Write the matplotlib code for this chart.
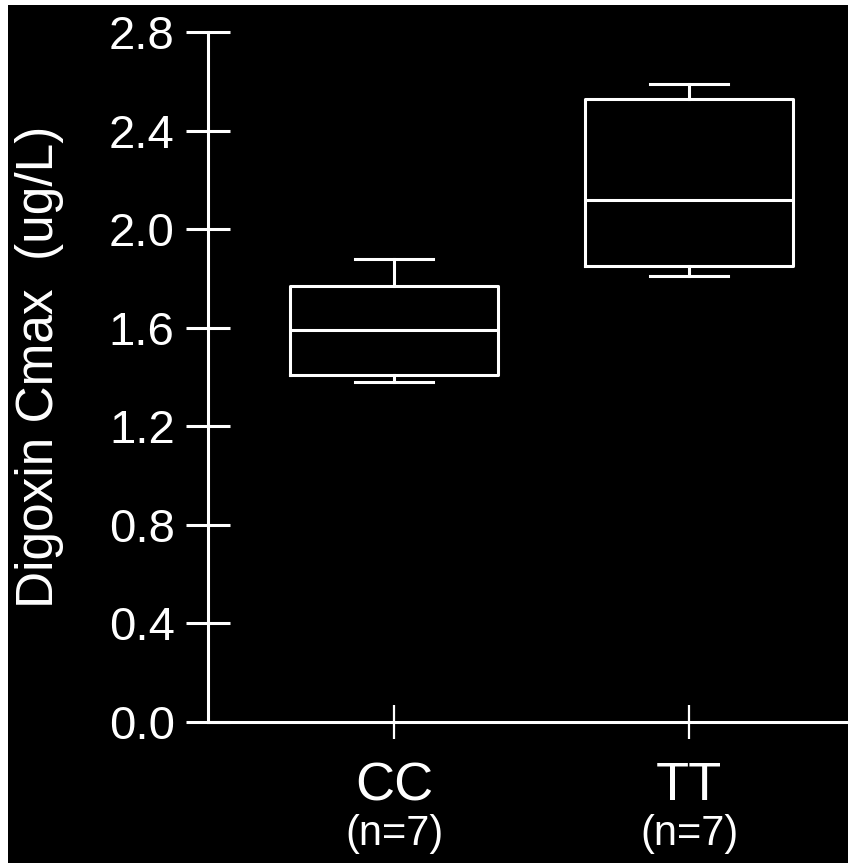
import matplotlib
matplotlib.use("Agg")
import matplotlib.pyplot as plt
from matplotlib.patches import Rectangle

plt.rcParams['font.family'] = ['Liberation Sans', 'DejaVu Sans']

# Data
groups = ["CC", "TT"]
group_n = ["(n=7)", "(n=7)"]
whisker_low = [1.38, 1.81]
q1 = [1.41, 1.85]
median = [1.59, 2.12]
q3 = [1.77, 2.53]
whisker_high = [1.88, 2.59]
y_ticks = [0.0, 0.4, 0.8, 1.2, 1.6, 2.0, 2.4, 2.8]
y_label = "Digoxin Cmax  (ug/L)"

W, H = 848, 863
fig = plt.figure(figsize=(W / 100, H / 100), dpi=100, facecolor='white')
fig.add_artist(Rectangle((8 / W, 0), 1, 1 - 5 / H, transform=fig.transFigure,
                         facecolor='black', edgecolor='none', zorder=-5))

ax = fig.add_axes([208 / W, 1 - 722 / H, 1 - 208 / W, (722 - 32) / H])
ax.set_facecolor('none')

positions = [1, 2]
stats = []
for i, g in enumerate(groups):
    stats.append(dict(label=g, whislo=whisker_low[i], q1=q1[i], med=median[i],
                      q3=q3[i], whishi=whisker_high[i], fliers=[]))

lw = 2.2
ax.bxp(stats, positions=positions, widths=0.705, capwidths=0.265, showfliers=False,
       boxprops=dict(color='white', linewidth=lw),
       whiskerprops=dict(color='white', linewidth=lw),
       capprops=dict(color='white', linewidth=lw),
       medianprops=dict(color='white', linewidth=lw),
       manage_ticks=False)

ax.set_xlim(0.369, 2.539)
ax.set_ylim(0, 2.8)

for s in ['top', 'right']:
    ax.spines[s].set_visible(False)
for s in ['left', 'bottom']:
    ax.spines[s].set_color('white')
    ax.spines[s].set_linewidth(lw)

ax.set_yticks(y_ticks)
ax.set_yticklabels([f"{v:.1f}" for v in y_ticks])
ax.tick_params(axis='y', direction='inout', length=32, width=lw, color='white',
               labelcolor='white', labelsize=34, pad=8)
ax.set_xticks(positions)
ax.set_xticklabels([])
ax.tick_params(axis='x', direction='inout', length=25, width=1.6, color='white')

for i, p in enumerate(positions):
    ax.text(p, -0.16, groups[i], transform=ax.transData, ha='center', va='top',
            fontsize=39, color='white', clip_on=False)
    ax.text(p, -0.375, group_n[i], transform=ax.transData, ha='center', va='top',
            fontsize=30, color='white', clip_on=False)

fig.text(40 / W, 1 - 367 / H, y_label, rotation=90, ha='center', va='center',
         fontsize=37, color='white')

fig.savefig("out.png", dpi=100, facecolor=fig.get_facecolor())
